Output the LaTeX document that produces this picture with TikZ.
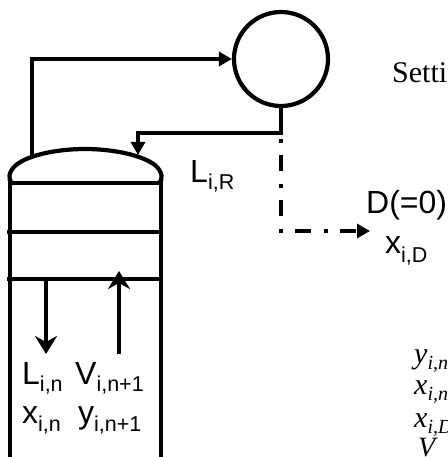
\documentclass[tikz,border=0pt]{standalone}
\usepackage{fontspec}
\setmainfont{Liberation Serif}
\newfontfamily\arialfont{Liberation Sans}
\usetikzlibrary{arrows.meta}

\newcommand{\biglab}[3]{{\arialfont\fontsize{32}{32}\selectfont #1\raisebox{-#3pt}{\fontsize{21.5}{22}\selectfont #2}}}
\newcommand{\serlab}[2]{{\itshape\fontsize{30}{30}\selectfont #1\raisebox{-6pt}{\fontsize{20}{20}\selectfont #2}}}

\tikzset{
  pipe/.style={line width=4.2pt, black},
  lab/.style={inner sep=0pt, anchor=base west},
  solidtip/.style={-{Triangle[length=13pt,width=14pt]}},
  traytip/.style={-{Stealth[length=18pt,width=22pt,inset=6pt]}}
}

\begin{document}
\begin{tikzpicture}[x=1pt, y=-1pt]

\clip (0,0) rectangle (447,457);
\fill[white] (0,0) rectangle (447,457);

% Condenser
\path (281,59) node[circle, draw, pipe, minimum size=94pt, inner sep=0pt] (condenser) {};

% Column top and walls
\draw[pipe] (12,183) .. controls (8,180) and (8,172) .. (16,165) .. controls (30,154) and (60,149) .. (85,149) .. controls (110,149) and (140,154) .. (155,165) .. controls (163,172) and (163,180) .. (159,183);
\draw[pipe] (10,183) -- (10,457);
\draw[pipe] (161,183) -- (161,457);

% Trays
\draw[pipe] (8,183) -- (163,183);
\draw[pipe] (7,232) -- (163,232);
\draw[pipe] (7,279) -- (163,279);

% Vapour to condenser
\coordinate (domeleft) at (32,156);
\coordinate (vapcorner) at (32,59);
\draw[pipe, solidtip] (domeleft) -- (vapcorner) -- (condenser.west);

% Reflux
\coordinate (junction) at (281,133);
\coordinate (domeright) at (138,155);
\draw[pipe, solidtip] (condenser.south) -- (junction) -| (domeright);

% Distillate, zero flow
\coordinate (distcorner) at (281,231);
\coordinate (distend) at (370,231);
\draw[pipe, solidtip, dash pattern=on 16pt off 13pt on 4pt off 12pt, dash phase=23pt] (junction) -- (distcorner) -- (distend);

% Tray streams
\coordinate (liqtop) at (46,280);
\coordinate (liqend) at (46,354);
\coordinate (vapbot) at (119,354);
\coordinate (vaptop) at (119,271);
\draw[pipe, traytip] (liqtop) -- (liqend);
\draw[pipe, traytip] (vapbot) -- (vaptop);

% Labels
\path
(190,182) node[lab] (lir) {\biglab{L}{i,R}{8}}
(366,213) node[lab] (dzero) {{\arialfont\fontsize{32}{32}\selectfont D(=0)}}
(385,253) node[lab] (xid) {\biglab{x}{i,D}{9}}
(22,384) node[lab] (lin) {\biglab{L}{i,n}{7}}
(75,384) node[lab] (vin) {\biglab{V}{i,n+1}{7}}
(22,423) node[lab] (xin) {\biglab{x}{i,n}{8}}
(78,423) node[lab] (yin) {\biglab{y}{i,n+1}{8}};

% Right hand text
\path
(392,83) node[lab] (setting) {\fontsize{30}{30}\selectfont Setti}
(414,363) node[lab] (yeq) {\serlab{y}{i,n}}
(414,394) node[lab] (xeq) {\serlab{x}{i,n}}
(414,427) node[lab] (xdeq) {\serlab{x}{i,D}}
(418,456) node[lab] (veq) {{\itshape\fontsize{28}{28}\selectfont V}};

\end{tikzpicture}
\end{document}
